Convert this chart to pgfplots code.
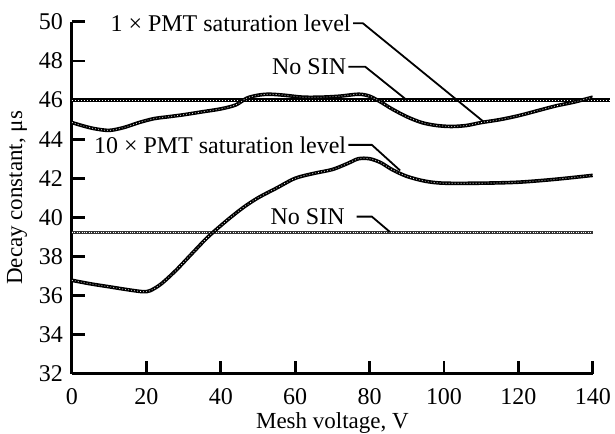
\documentclass[border=0pt]{standalone}
\usepackage{fontspec}
\setmainfont{Liberation Serif}
\usepackage{pgfplots}
\usepackage{pgfplotstable}
\pgfplotsset{compat=1.18}

% 1x PMT saturation level
\pgfplotstableread{
x y
0 44.85
3 44.68
6 44.54
10 44.45
14 44.6
18 44.85
22 45.05
26 45.15
30 45.25
35 45.4
40 45.55
44 45.75
47 46.1
50 46.25
53 46.3
57 46.25
62 46.15
67 46.15
72 46.2
77 46.3
80 46.2
83 45.9
86 45.55
90 45.15
94 44.85
98 44.7
102 44.65
106 44.7
110 44.85
115 45.0
120 45.2
125 45.45
130 45.7
135 45.9
140 46.15
}\tblone

% 10x PMT saturation level
\pgfplotstableread{
x y
0 36.78
5 36.6
10 36.45
15 36.3
19 36.2
21 36.25
24 36.6
28 37.3
32 38.1
36 38.9
38 39.25
42 39.9
46 40.5
50 41.0
55 41.5
60 42.0
65 42.25
70 42.45
74 42.75
77 43.0
80 43.0
83 42.8
86 42.45
90 42.1
95 41.85
100 41.75
110 41.75
120 41.8
130 41.95
140 42.15
}\tblten

\pgfplotstableread{
x y
0 46
144.6 46
}\sinone

\pgfplotstableread{
x y
0 39.25
140 39.25
}\sinten

\begin{document}
\begin{tikzpicture}[
  trace/.style={line width=0.35pt, white, dash pattern=on 0.4pt off 1.1pt,
    preaction={draw, solid, black, line width=1.8pt}},
  lead/.style={line width=0.9pt, black},
  lbl/.style={font=\fontsize{12}{14}\selectfont, anchor=east, inner sep=0pt}
]
\begin{axis}[
  scale only axis,
  width=260.5pt, height=176pt,
  xmin=0, xmax=140, ymin=32, ymax=50,
  axis lines*=left,
  axis line style={-, line width=1.5pt},
  xtick={0,20,...,140},
  ytick={32,34,...,50},
  tick align=inside,
  major tick length=6.5pt,
  major tick style={line width=1.4pt, black},
  ticklabel style={font=\fontsize{12}{14}\selectfont},
  xticklabel style={yshift=-4pt},
  yticklabel style={xshift=-1pt},
  /pgf/number format/assume math mode=true,
  label style={font=\fontsize{11.5}{13}\selectfont},
  ylabel={Decay constant, μs},
  xlabel={Mesh voltage, V},
  xlabel style={yshift=3pt},
  ylabel style={yshift=-1pt},
  clip=false,
]
\addplot[trace, no marks] table[x=x, y=y] {\sinone};
\addplot[line width=0.4pt, white, dash pattern=on 0.5pt off 0.7pt, no marks,
  preaction={draw, solid, black!80, line width=1.5pt}] table[x=x, y=y] {\sinten};
\addplot[trace, no marks, smooth] table[x=x, y=y] {\tblone};
\addplot[trace, no marks, smooth] table[x=x, y=y] {\tblten};

\node[lbl] at (axis cs:75.0,49.93) {1 × PMT saturation level};
\draw[lead] (axis cs:75.6,49.93) -- (axis cs:78.2,49.93) -- (axis cs:110.6,44.9);
\node[lbl] at (axis cs:73.8,47.71) {No SIN};
\draw[lead] (axis cs:74.3,47.71) -- (axis cs:78.8,47.71) -- (axis cs:90,46);
\node[lbl] at (axis cs:73.8,43.71) {10 × PMT saturation level};
\draw[lead] (axis cs:74.3,43.71) -- (axis cs:80.6,43.71) -- (axis cs:88.2,42.4);
\node[lbl] at (axis cs:73.4,40.04) {No SIN};
\draw[lead] (axis cs:76.5,40.04) -- (axis cs:80.6,40.04) -- (axis cs:85.5,39.25);

\coordinate (bl) at (axis cs:-19.35,28.93);
\coordinate (tr) at (axis cs:145.97,51.12);
\end{axis}
\pgfresetboundingbox
\path[use as bounding box] (bl) rectangle (tr);
\end{tikzpicture}
\end{document}
